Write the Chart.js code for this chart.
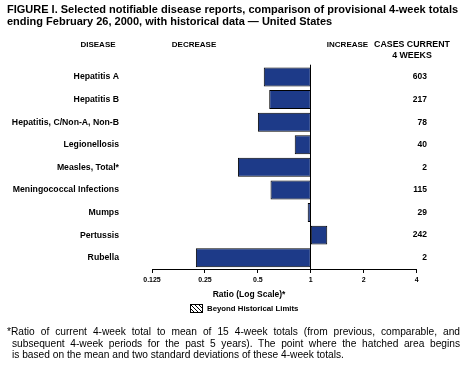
<!DOCTYPE html>
<html>
<head>
<meta charset="utf-8">
<script src="https://cdn.jsdelivr.net/npm/chart.js@4"></script>
<style>
  body { margin: 0; background: #fff; font-family: "Liberation Sans", Arial, sans-serif; }
  #wrap { position: relative; width: 463px; height: 369px; }
  #chart { position: absolute; left: 0; top: 0; }
  .title { position: absolute; left: 7px; top: 3px; font-weight: bold; font-size: 11px; line-height: 12px; color: #000; white-space: nowrap; }
  .note { position: absolute; left: 7px; top: 326px; width: 453px; font-size: 10.2px; line-height: 11.5px; color: #000; }
  .note div { text-align: justify; text-align-last: justify; white-space: nowrap; }
  .note .in { padding-left: 5px; }
  .note .last { text-align-last: left; }
</style>
</head>
<body>
<div id="wrap">
  <canvas id="chart" width="463" height="369"></canvas>
  <div class="title">FIGURE I. Selected notifiable disease reports, comparison of provisional 4-week totals<br>ending February 26, 2000, with historical data — United States</div>
  <div class="note">
    <div>*Ratio of current 4-week total to mean of 15 4-week totals (from previous, comparable, and</div>
    <div class="in">subsequent 4-week periods for the past 5 years). The point where the hatched area begins</div>
    <div class="in last">is based on the mean and two standard deviations of these 4-week totals.</div>
  </div>
</div>
<script>
const diseases = ['Hepatitis A', 'Hepatitis B', 'Hepatitis, C/Non-A, Non-B', 'Legionellosis', 'Measles, Total*',
                  'Meningococcal Infections', 'Mumps', 'Pertussis', 'Rubella'];
const ratios = [0.54, 0.58, 0.50, 0.81, 0.385, 0.59, 0.96, 1.24, 0.222];
const cases = [603, 217, 78, 40, 2, 115, 29, 242, 2];
const tickValues = [0.125, 0.25, 0.5, 1, 2, 4];

const BAR_COLOR = '#1d3a88';

// заголовки колонок, числа случаев, линия у 1 и легенда
const extras = {
    id: 'extras',
    afterDraw(chart) {
        const c = chart.ctx;
        const x = chart.scales.x;
        const y = chart.scales.y;
        const area = chart.chartArea;
        c.save();

        // вертикальная линия на 1
        const x1 = Math.round(x.getPixelForValue(1)) - 0.5;
        c.strokeStyle = '#000';
        c.lineWidth = 1;
        c.beginPath();
        c.moveTo(x1, area.top - 1);
        c.lineTo(x1, area.bottom);
        c.stroke();

        c.fillStyle = '#000';
        c.textBaseline = 'middle';
        c.textAlign = 'center';
        c.font = 'bold 8px "Liberation Sans", Arial, sans-serif';
        c.fillText('DISEASE', 98, 45);
        c.fillText('DECREASE', 194, 45);
        c.fillText('INCREASE', 347.5, 45);
        c.font = 'bold 8.8px "Liberation Sans", Arial, sans-serif';
        c.fillText('CASES CURRENT', 412, 45);
        c.fillText('4 WEEKS', 412, 56);

        c.font = 'bold 8.5px "Liberation Sans", Arial, sans-serif';
        c.textAlign = 'right';
        cases.forEach((v, i) => {
            c.fillText(String(v), 427, y.getPixelForValue(i));
        });

        // подпись оси
        c.textAlign = 'center';
        c.font = 'bold 8.5px "Liberation Sans", Arial, sans-serif';
        c.fillText('Ratio (Log Scale)*', 249, 295);

        // легенда со штриховкой
        const lx = 190.5, ly = 304.5, lw = 12, lh = 8;
        c.strokeStyle = '#000';
        c.strokeRect(lx, ly, lw, lh);
        c.beginPath();
        c.rect(lx, ly, lw, lh);
        c.clip();
        for (let k = -lh; k < lw + lh; k += 4) {
            c.moveTo(lx + k, ly);
            c.lineTo(lx + k + lh, ly + lh);
        }
        c.stroke();
        c.restore();
        c.save();
        c.fillStyle = '#000';
        c.textBaseline = 'middle';
        c.textAlign = 'left';
        c.font = 'bold 7.8px "Liberation Sans", Arial, sans-serif';
        c.fillText('Beyond Historical Limits', 207, 309);
        c.restore();
    }
};

new Chart(document.getElementById('chart'), {
    type: 'bar',
    data: {
        labels: diseases,
        datasets: [{
            data: ratios.map(r => [Math.min(r, 1), Math.max(r, 1)]),
            backgroundColor: BAR_COLOR,
            borderColor: '#000',
            borderWidth: 1,
            borderSkipped: false,
            categoryPercentage: 1,
            barPercentage: 0.84
        }]
    },
    options: {
        indexAxis: 'y',
        responsive: false,
        animation: false,
        layout: { padding: { top: 65.7, right: 46.3, bottom: 0, left: 0 } },
        plugins: { legend: { display: false }, tooltip: { enabled: false } },
        scales: {
            x: {
                type: 'logarithmic',
                min: 0.125,
                max: 4,
                afterBuildTicks: s => { s.ticks = tickValues.map(v => ({ value: v })); },
                afterFit: s => { s.height = 100; },
                border: { display: true, color: '#000', width: 1 },
                grid: { drawOnChartArea: false, drawTicks: true, tickLength: 4, color: '#000' },
                ticks: {
                    color: '#000',
                    padding: 3,
                    maxRotation: 0,
                    autoSkip: false,
                    font: { family: '"Liberation Sans", Arial, sans-serif', size: 7, weight: 'bold' },
                    callback: v => String(v)
                }
            },
            y: {
                afterFit: s => { s.width = 152; },
                border: { display: false },
                grid: { display: false },
                ticks: {
                    color: '#000',
                    padding: 25,
                    font: { family: '"Liberation Sans", Arial, sans-serif', size: 8.7, weight: 'bold' }
                }
            }
        }
    },
    plugins: [extras]
});
</script>
</body>
</html>
